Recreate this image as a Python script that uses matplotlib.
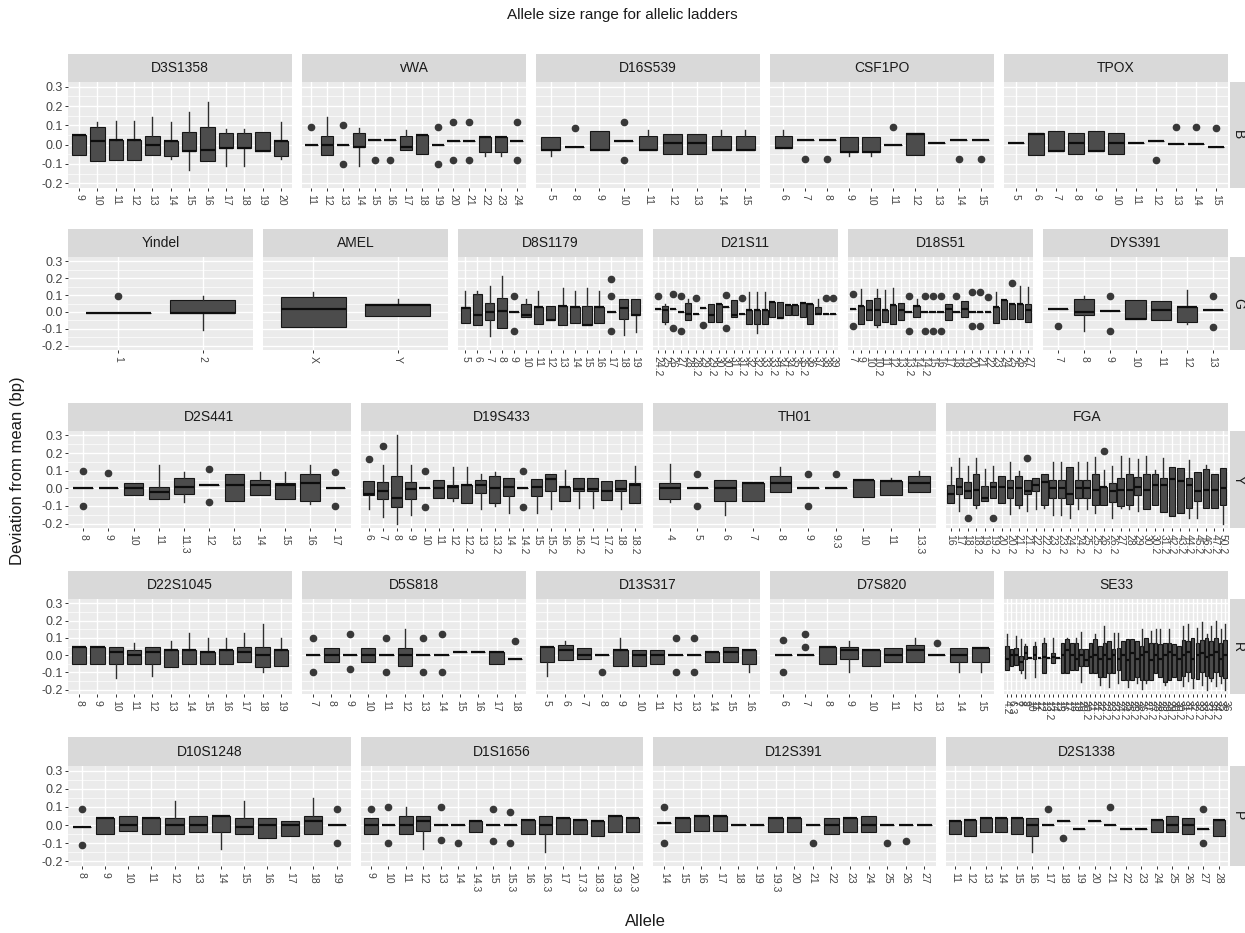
import matplotlib
matplotlib.use("Agg")
import matplotlib.pyplot as plt
from matplotlib.ticker import FixedLocator

plt.rcParams['font.family'] = ['Liberation Sans', 'DejaVu Sans']

# each box: (lower whisker, q1, median, q3, upper whisker, outliers)

# ---------------- row B ----------------
D3S1358_alleles = ['9', '10', '11', '12', '13', '14', '15', '16', '17', '18', '19', '20']
D3S1358_stats = [
    (-0.055, -0.055, 0.05, 0.05, 0.05, []),
    (-0.085, -0.085, 0.02, 0.09, 0.12, []),
    (-0.08, -0.08, 0.025, 0.025, 0.125, []),
    (-0.08, -0.08, 0.025, 0.025, 0.125, []),
    (-0.055, -0.055, 0.0, 0.045, 0.145, []),
    (-0.075, -0.06, 0.02, 0.02, 0.12, []),
    (-0.13, -0.035, -0.035, 0.065, 0.17, []),
    (-0.085, -0.085, -0.03, 0.09, 0.22, []),
    (-0.11, -0.015, -0.015, 0.06, 0.08, []),
    (-0.11, -0.015, -0.015, 0.06, 0.08, []),
    (-0.035, -0.035, -0.035, 0.065, 0.065, []),
    (-0.075, -0.06, 0.02, 0.02, 0.12, []),
]

vWA_alleles = ['11', '12', '13', '14', '15', '16', '17', '18', '19', '20', '21', '22', '23', '24']
vWA_stats = [
    (0.0, 0.0, 0.0, 0.0, 0.0, [0.09]),
    (-0.055, -0.055, 0.0, 0.045, 0.145, []),
    (0.0, 0.0, 0.0, 0.0, 0.0, [0.1, -0.1]),
    (-0.11, -0.01, -0.01, 0.06, 0.085, []),
    (0.025, 0.025, 0.025, 0.025, 0.025, [-0.08]),
    (0.025, 0.025, 0.025, 0.025, 0.025, [-0.08]),
    (-0.03, -0.03, -0.01, 0.045, 0.075, []),
    (-0.05, -0.05, 0.05, 0.05, 0.05, []),
    (0.0, 0.0, 0.0, 0.0, 0.0, [0.09, -0.1]),
    (0.02, 0.02, 0.02, 0.02, 0.02, [0.12, -0.08]),
    (0.02, 0.02, 0.02, 0.02, 0.02, [0.12, -0.08]),
    (-0.06, -0.04, 0.04, 0.04, 0.04, []),
    (-0.06, -0.04, 0.04, 0.04, 0.04, []),
    (0.02, 0.02, 0.02, 0.02, 0.02, [0.12, -0.08]),
]

D16S539_alleles = ['5', '8', '9', '10', '11', '12', '13', '14', '15']
D16S539_stats = [
    (-0.06, -0.03, -0.03, 0.04, 0.04, []),
    (-0.012, -0.012, -0.012, -0.012, -0.012, [0.085]),
    (-0.03, -0.03, -0.03, 0.07, 0.07, []),
    (0.02, 0.02, 0.02, 0.02, 0.02, [0.12, -0.08]),
    (-0.03, -0.03, -0.03, 0.047, 0.075, []),
    (-0.05, -0.05, 0.01, 0.055, 0.055, []),
    (-0.05, -0.05, 0.01, 0.055, 0.055, []),
    (-0.03, -0.03, -0.03, 0.047, 0.075, []),
    (-0.03, -0.03, -0.03, 0.047, 0.075, []),
]

CSF1PO_alleles = ['6', '7', '8', '9', '10', '11', '12', '13', '14', '15']
CSF1PO_stats = [
    (-0.02, -0.02, -0.02, 0.047, 0.075, []),
    (0.025, 0.025, 0.025, 0.025, 0.025, [-0.075]),
    (0.025, 0.025, 0.025, 0.025, 0.025, [-0.075]),
    (-0.06, -0.04, -0.04, 0.04, 0.04, []),
    (-0.06, -0.04, -0.04, 0.04, 0.04, []),
    (0.0, 0.0, 0.0, 0.0, 0.0, [0.09]),
    (-0.053, -0.053, 0.053, 0.058, 0.058, []),
    (0.01, 0.01, 0.01, 0.01, 0.01, []),
    (0.025, 0.025, 0.025, 0.025, 0.025, [-0.075]),
    (0.025, 0.025, 0.025, 0.025, 0.025, [-0.075]),
]

TPOX_alleles = ['5', '6', '7', '8', '9', '10', '11', '12', '13', '14', '15']
TPOX_stats = [
    (0.01, 0.01, 0.01, 0.01, 0.01, []),
    (-0.053, -0.053, 0.053, 0.058, 0.058, []),
    (-0.035, -0.035, -0.035, 0.07, 0.07, []),
    (-0.05, -0.05, 0.01, 0.058, 0.058, []),
    (-0.035, -0.035, -0.035, 0.07, 0.07, []),
    (-0.05, -0.05, 0.01, 0.058, 0.058, []),
    (0.01, 0.01, 0.01, 0.01, 0.01, []),
    (0.02, 0.02, 0.02, 0.02, 0.02, [-0.08]),
    (0.005, 0.005, 0.005, 0.005, 0.005, [0.09]),
    (0.005, 0.005, 0.005, 0.005, 0.005, [0.09]),
    (-0.012, -0.012, -0.012, -0.012, -0.012, [0.088]),
]

# ---------------- row G ----------------
Yindel_alleles = ['1', '2']
Yindel_stats = [
    (-0.005, -0.005, -0.005, -0.005, -0.005, [0.095]),
    (-0.105, -0.005, -0.005, 0.07, 0.095, []),
]

AMEL_alleles = ['X', 'Y']
AMEL_stats = [
    (-0.09, -0.09, 0.015, 0.09, 0.12, []),
    (-0.025, -0.025, 0.04, 0.045, 0.075, []),
]

D8S1179_alleles = ['5', '6', '7', '8', '9', '10', '11', '12', '13', '14', '15', '16', '17', '18', '19']
D8S1179_stats = [
    (-0.065, -0.065, 0.025, 0.03, 0.125, []),
    (-0.08, -0.08, -0.02, 0.105, 0.125, []),
    (-0.14, -0.05, 0.0, 0.055, 0.155, []),
    (-0.095, -0.095, 0.005, 0.08, 0.21, []),
    (0.0, 0.0, 0.0, 0.0, 0.0, [0.095, -0.11]),
    (-0.03, -0.03, -0.02, 0.045, 0.075, []),
    (-0.07, -0.07, 0.03, 0.03, 0.125, []),
    (-0.045, -0.045, -0.045, 0.035, 0.035, []),
    (-0.075, -0.075, 0.035, 0.035, 0.14, []),
    (-0.065, -0.065, 0.03, 0.03, 0.125, []),
    (-0.075, -0.075, -0.075, 0.035, 0.14, []),
    (-0.065, -0.065, 0.03, 0.03, 0.125, []),
    (0.0, 0.0, 0.0, 0.0, 0.0, [0.195, 0.095, -0.11]),
    (-0.135, -0.04, 0.025, 0.075, 0.075, []),
    (-0.12, -0.02, -0.02, 0.075, 0.075, []),
]

D21S11_alleles = ['24.2', '25', '26', '27', '28', '28.2', '29', '29.2', '30', '30.2', '31', '31.2',
                  '32', '32.2', '33', '33.2', '34', '34.2', '35', '35.2', '36', '37', '38', '39']
D21S11_stats = [
    (0.015, 0.015, 0.015, 0.015, 0.015, [0.095]),
    (-0.07, -0.06, 0.01, 0.035, 0.045, []),
    (0.015, 0.015, 0.015, 0.015, 0.015, [0.105, -0.095]),
    (0.0, 0.0, 0.0, 0.0, 0.0, [0.095, -0.11]),
    (-0.045, -0.045, -0.015, 0.055, 0.075, []),
    (-0.015, -0.015, -0.015, -0.015, -0.015, [0.08]),
    (0.025, 0.025, 0.025, 0.025, 0.025, [-0.08]),
    (-0.06, -0.06, -0.02, 0.05, 0.05, []),
    (-0.06, -0.06, 0.05, 0.05, 0.05, []),
    (0.03, 0.03, 0.03, 0.03, 0.03, [0.1, -0.095]),
    (-0.03, -0.03, -0.02, 0.07, 0.07, []),
    (-0.015, -0.015, -0.015, -0.015, -0.015, [0.08]),
    (-0.07, -0.07, 0.01, 0.01, 0.12, []),
    (-0.125, -0.07, 0.01, 0.01, 0.12, []),
    (-0.07, -0.07, 0.01, 0.01, 0.12, []),
    (-0.03, -0.03, 0.06, 0.06, 0.06, []),
    (-0.035, -0.035, -0.035, 0.06, 0.06, []),
    (-0.02, -0.02, 0.04, 0.04, 0.04, []),
    (-0.02, -0.02, 0.04, 0.04, 0.04, []),
    (-0.03, -0.03, 0.055, 0.055, 0.055, []),
    (-0.07, -0.07, 0.05, 0.05, 0.05, []),
    (-0.015, -0.015, -0.015, 0.03, 0.075, []),
    (-0.015, -0.015, -0.015, -0.015, -0.015, [0.085]),
    (-0.015, -0.015, -0.015, -0.015, -0.015, [0.085]),
]

D18S51_alleles = ['7', '9', '10', '10.2', '11', '12', '13', '13.2', '14', '14.2', '15', '16',
                  '17', '18', '19', '20', '21', '22', '23', '24', '25', '26', '27']
D18S51_stats = [
    (0.015, 0.015, 0.015, 0.015, 0.015, [0.105, -0.085]),
    (-0.07, -0.07, 0.035, 0.035, 0.135, []),
    (-0.045, -0.045, 0.01, 0.07, 0.07, []),
    (-0.09, -0.08, 0.01, 0.08, 0.135, []),
    (-0.06, -0.06, 0.01, 0.01, 0.13, []),
    (-0.07, -0.07, 0.04, 0.04, 0.14, []),
    (-0.045, -0.045, 0.01, 0.055, 0.055, []),
    (0.0, 0.0, 0.0, 0.0, 0.0, [0.095, -0.115]),
    (-0.03, -0.03, 0.035, 0.035, 0.075, []),
    (0.0, 0.0, 0.0, 0.0, 0.0, [0.095, -0.115]),
    (0.0, 0.0, 0.0, 0.0, 0.0, [0.095, -0.115]),
    (0.0, 0.0, 0.0, 0.0, 0.0, [0.095, -0.115]),
    (-0.045, -0.045, 0.015, 0.045, 0.045, []),
    (0.0, 0.0, 0.0, 0.0, 0.0, [0.095]),
    (-0.03, -0.03, 0.015, 0.065, 0.065, []),
    (0.0, 0.0, 0.0, 0.0, 0.0, [0.12, -0.085]),
    (0.0, 0.0, 0.0, 0.0, 0.0, [0.12, -0.085]),
    (0.0, 0.0, 0.0, 0.0, 0.0, [0.09]),
    (-0.065, -0.065, 0.03, 0.03, 0.12, []),
    (-0.04, -0.04, 0.07, 0.07, 0.07, []),
    (-0.04, -0.04, 0.05, 0.05, 0.05, [0.17]),
    (-0.04, -0.04, 0.05, 0.05, 0.155, []),
    (-0.06, -0.06, 0.01, 0.05, 0.145, []),
]

DYS391_alleles = ['7', '8', '9', '10', '11', '12', '13']
DYS391_stats = [
    (0.015, 0.015, 0.015, 0.015, 0.015, [-0.085]),
    (-0.11, -0.02, 0.0, 0.075, 0.095, []),
    (0.005, 0.005, 0.005, 0.005, 0.005, [0.095, -0.11]),
    (-0.04, -0.04, -0.04, 0.07, 0.07, []),
    (-0.045, -0.045, 0.01, 0.065, 0.065, []),
    (-0.07, -0.06, 0.03, 0.03, 0.13, []),
    (0.01, 0.01, 0.01, 0.01, 0.01, [0.095, -0.09]),
]

# ---------------- row Y ----------------
D2S441_alleles = ['8', '9', '10', '11', '11.3', '12', '13', '14', '15', '16', '17']
D2S441_stats = [
    (0.0, 0.0, 0.0, 0.0, 0.0, [0.1, -0.1]),
    (0.0, 0.0, 0.0, 0.0, 0.0, [0.085]),
    (-0.04, -0.04, 0.0, 0.03, 0.03, []),
    (-0.06, -0.06, -0.02, 0.01, 0.13, []),
    (-0.08, -0.03, 0.01, 0.06, 0.09, []),
    (0.02, 0.02, 0.02, 0.02, 0.02, [0.11, -0.08]),
    (-0.07, -0.07, 0.02, 0.08, 0.08, []),
    (-0.04, -0.04, 0.02, 0.05, 0.09, []),
    (-0.06, -0.06, 0.02, 0.03, 0.09, []),
    (-0.09, -0.07, 0.03, 0.08, 0.13, []),
    (0.0, 0.0, 0.0, 0.0, 0.0, [0.09, -0.1]),
]

D19S433_alleles = ['6', '7', '8', '9', '10', '11', '12', '12.2', '13', '13.2', '14', '14.2',
                   '15', '15.2', '16', '16.2', '17', '17.2', '18', '18.2']
D19S433_stats = [
    (-0.12, -0.037, -0.033, 0.041, 0.041, [0.167]),
    (-0.16, -0.063, -0.014, 0.035, 0.133, [0.24]),
    (-0.2, -0.108, -0.053, 0.069, 0.3, []),
    (-0.15, -0.063, -0.004, 0.035, 0.133, []),
    (0.0, 0.0, 0.0, 0.0, 0.0, [0.1, -0.106]),
    (-0.053, -0.053, 0.0, 0.049, 0.049, []),
    (-0.073, -0.053, 0.01, 0.016, 0.12, []),
    (-0.082, -0.082, 0.016, 0.016, 0.12, []),
    (-0.12, -0.024, 0.016, 0.045, 0.08, []),
    (-0.1, -0.082, 0.0, 0.069, 0.094, []),
    (-0.14, -0.043, 0.01, 0.059, 0.059, []),
    (0.0, 0.0, 0.0, 0.0, 0.0, [0.1, -0.106]),
    (-0.14, -0.043, 0.006, 0.055, 0.055, []),
    (-0.12, -0.018, 0.055, 0.08, 0.08, []),
    (-0.073, -0.073, 0.01, 0.01, 0.104, []),
    (-0.11, -0.014, -0.004, 0.06, 0.06, []),
    (-0.11, -0.014, -0.004, 0.06, 0.06, []),
    (-0.069, -0.069, -0.014, 0.041, 0.041, []),
    (-0.12, -0.018, -0.004, 0.049, 0.049, []),
    (-0.082, -0.082, 0.016, 0.03, 0.124, []),
]

TH01_alleles = ['4', '5', '6', '7', '8', '9', '9.3', '10', '11', '13.3']
TH01_stats = [
    (-0.08, -0.06, 0.0, 0.03, 0.14, []),
    (0.0, 0.0, 0.0, 0.0, 0.0, [0.08, -0.1]),
    (-0.15, -0.07, 0.0, 0.05, 0.05, []),
    (-0.07, -0.07, 0.03, 0.03, 0.03, []),
    (-0.02, -0.02, 0.03, 0.07, 0.12, []),
    (0.0, 0.0, 0.0, 0.0, 0.0, [0.08, -0.1]),
    (0.0, 0.0, 0.0, 0.0, 0.0, [0.08]),
    (-0.05, -0.05, 0.05, 0.05, 0.05, []),
    (-0.04, -0.04, 0.04, 0.04, 0.06, []),
    (-0.02, -0.02, 0.03, 0.07, 0.1, []),
]

FGA_alleles = ['16', '17', '18', '18.2', '19', '19.2', '20', '20.2', '21', '21.2', '22', '22.2',
               '23', '23.2', '24', '24.2', '25', '25.2', '26', '26.2', '27', '28', '29', '30',
               '30.2', '31.2', '42.2', '43.2', '44.2', '45.2', '46.2', '47.2', '50.2']
FGA_stats = [
    (-0.082, -0.082, -0.033, 0.016, 0.12, []),
    (-0.131, -0.033, 0.006, 0.061, 0.173, []),
    (-0.053, -0.053, -0.014, 0.035, 0.124, [-0.167]),
    (-0.112, -0.096, -0.01, 0.084, 0.173, []),
    (-0.073, -0.073, -0.053, 0.012, 0.108, []),
    (-0.053, -0.053, 0.006, 0.035, 0.124, [-0.17]),
    (-0.082, -0.082, 0.006, 0.069, 0.069, []),
    (-0.147, -0.053, 0.0, 0.045, 0.147, []),
    (-0.112, -0.092, 0.0, 0.069, 0.1, []),
    (-0.127, -0.033, -0.014, 0.045, 0.045, [0.173]),
    (-0.12, -0.018, 0.016, 0.061, 0.061, []),
    (-0.112, -0.096, 0.035, 0.08, 0.08, []),
    (-0.15, -0.053, 0.0, 0.049, 0.147, []),
    (-0.15, -0.053, 0.0, 0.049, 0.147, []),
    (-0.17, -0.088, -0.03, 0.12, 0.12, []),
    (-0.116, -0.053, 0.0, 0.049, 0.147, []),
    (-0.116, -0.053, 0.0, 0.049, 0.147, []),
    (-0.14, -0.092, -0.01, 0.08, 0.178, []),
    (-0.092, -0.092, 0.006, 0.01, 0.104, [0.21]),
    (-0.167, -0.076, -0.014, 0.03, 0.124, []),
    (-0.112, -0.102, -0.01, 0.061, 0.186, []),
    (-0.12, -0.096, -0.01, 0.08, 0.173, []),
    (-0.127, -0.037, 0.006, 0.065, 0.167, []),
    (-0.116, -0.116, -0.01, 0.084, 0.186, []),
    (-0.092, -0.092, 0.016, 0.08, 0.104, []),
    (-0.135, -0.135, 0.016, 0.061, 0.173, []),
    (-0.155, -0.155, 0.055, 0.12, 0.12, []),
    (-0.141, -0.141, 0.041, 0.114, 0.114, []),
    (-0.17, -0.112, 0.016, 0.061, 0.159, []),
    (-0.17, -0.073, -0.014, 0.094, 0.094, []),
    (-0.112, -0.112, -0.01, 0.108, 0.133, []),
    (-0.112, -0.112, -0.01, 0.084, 0.084, []),
    (-0.2, -0.092, 0.0, 0.114, 0.114, []),
]

# ---------------- row R ----------------
D22S1045_alleles = ['8', '9', '10', '11', '12', '13', '14', '15', '16', '17', '18', '19']
D22S1045_stats = [
    (-0.05, -0.05, 0.05, 0.05, 0.05, []),
    (-0.05, -0.05, 0.05, 0.05, 0.05, []),
    (-0.13, -0.05, 0.02, 0.05, 0.05, []),
    (-0.05, -0.05, 0.0, 0.03, 0.07, []),
    (-0.12, -0.05, 0.02, 0.05, 0.05, []),
    (-0.07, -0.07, 0.03, 0.03, 0.08, []),
    (-0.05, -0.05, 0.03, 0.03, 0.13, []),
    (-0.05, -0.05, 0.02, 0.02, 0.1, []),
    (-0.05, -0.05, 0.03, 0.03, 0.1, []),
    (-0.04, -0.04, 0.02, 0.05, 0.13, []),
    (-0.1, -0.07, 0.0, 0.05, 0.18, []),
    (-0.06, -0.06, 0.03, 0.03, 0.1, []),
]

D5S818_alleles = ['7', '8', '9', '10', '11', '12', '13', '14', '15', '16', '17', '18']
D5S818_stats = [
    (0.0, 0.0, 0.0, 0.0, 0.0, [0.1, -0.1]),
    (-0.04, -0.04, 0.0, 0.04, 0.04, []),
    (0.0, 0.0, 0.0, 0.0, 0.0, [0.12, -0.08]),
    (-0.04, -0.04, 0.0, 0.04, 0.04, []),
    (0.0, 0.0, 0.0, 0.0, 0.0, [0.1, -0.1]),
    (-0.06, -0.06, 0.0, 0.04, 0.15, []),
    (0.0, 0.0, 0.0, 0.0, 0.0, [0.1, -0.1]),
    (0.0, 0.0, 0.0, 0.0, 0.0, [0.12, -0.1]),
    (0.02, 0.02, 0.02, 0.02, 0.02, []),
    (0.02, 0.02, 0.02, 0.02, 0.02, []),
    (-0.05, -0.05, 0.02, 0.02, 0.02, []),
    (-0.02, -0.02, -0.02, -0.02, -0.02, [0.08]),
]

D13S317_alleles = ['5', '6', '7', '8', '9', '10', '11', '12', '13', '14', '15', '16']
D13S317_stats = [
    (-0.12, -0.04, 0.05, 0.05, 0.05, []),
    (-0.03, -0.03, 0.03, 0.06, 0.08, []),
    (-0.02, -0.02, 0.0, 0.04, 0.04, []),
    (0.0, 0.0, 0.0, 0.0, 0.0, [-0.1]),
    (-0.06, -0.06, 0.03, 0.03, 0.1, []),
    (-0.06, -0.06, 0.0, 0.03, 0.03, []),
    (-0.05, -0.05, 0.0, 0.03, 0.03, []),
    (0.0, 0.0, 0.0, 0.0, 0.0, [0.1, -0.1]),
    (0.0, 0.0, 0.0, 0.0, 0.0, [0.1, -0.1]),
    (-0.04, -0.04, 0.02, 0.02, 0.02, []),
    (-0.04, -0.04, 0.02, 0.05, 0.05, []),
    (-0.1, -0.05, 0.03, 0.03, 0.03, []),
]

D7S820_alleles = ['6', '7', '8', '9', '10', '11', '12', '13', '14', '15']
D7S820_stats = [
    (0.0, 0.0, 0.0, 0.0, 0.0, [0.09, -0.1]),
    (0.0, 0.0, 0.0, 0.0, 0.0, [0.12, 0.05]),
    (-0.05, -0.05, 0.05, 0.05, 0.05, []),
    (-0.1, -0.02, 0.03, 0.05, 0.08, []),
    (-0.06, -0.06, 0.03, 0.03, 0.03, []),
    (-0.04, -0.04, 0.0, 0.04, 0.04, []),
    (-0.04, -0.04, 0.03, 0.06, 0.1, []),
    (0.0, 0.0, 0.0, 0.0, 0.0, [0.07]),
    (-0.1, -0.04, 0.0, 0.04, 0.04, []),
    (-0.1, -0.04, 0.04, 0.04, 0.04, []),
]

SE33_alleles = ['4.2', '6.3', '7', '8', '9', '10', '11', '12', '13', '13.2', '14', '15', '16',
                '17', '18', '19', '20', '20.2', '21', '21.2', '22', '22.2', '23', '23.2', '24',
                '24.2', '25', '25.2', '26', '26.2', '27', '27.2', '28', '28.2', '29', '29.2',
                '30', '30.2', '31', '31.2', '32', '32.2', '33', '33.2', '34', '34.2', '35', '36']
SE33_stats = [
    (-0.084, -0.084, -0.02, 0.053, 0.12, []),
    (-0.06, -0.06, 0.0, 0.037, 0.037, []),
    (-0.055, -0.055, 0.0, 0.043, 0.11, []),
    (-0.104, -0.084, -0.04, -0.006, 0.096, []),
    (-0.133, -0.025, 0.01, 0.053, 0.063, []),
    (-0.016, -0.016, -0.016, -0.016, -0.016, []),
    (-0.124, -0.025, 0.0, 0.053, 0.076, []),
    (-0.016, -0.016, -0.016, -0.016, -0.016, []),
    (-0.104, -0.104, -0.01, 0.073, 0.1, []),
    (-0.016, -0.016, -0.016, -0.016, -0.016, []),
    (-0.045, -0.045, -0.01, 0.014, 0.1, []),
    (-0.016, -0.016, -0.016, -0.016, -0.016, []),
    (-0.104, -0.104, 0.0, 0.073, 0.073, []),
    (-0.104, -0.104, 0.03, 0.092, 0.1, []),
    (-0.084, -0.084, 0.0, 0.073, 0.073, []),
    (-0.084, -0.084, -0.02, 0.073, 0.1, []),
    (-0.153, -0.065, 0.0, 0.033, 0.135, []),
    (-0.065, -0.065, -0.03, 0.033, 0.033, []),
    (-0.104, -0.104, -0.01, 0.073, 0.073, []),
    (-0.104, -0.104, 0.0, 0.092, 0.12, []),
    (-0.173, -0.124, -0.02, 0.053, 0.053, []),
    (-0.124, -0.124, 0.0, 0.073, 0.17, []),
    (-0.182, -0.104, -0.02, 0.082, 0.082, []),
    (-0.104, -0.104, 0.0, 0.033, 0.13, []),
    (-0.163, -0.084, -0.02, 0.043, 0.13, []),
    (-0.143, -0.143, 0.0, 0.082, 0.082, []),
    (-0.182, -0.143, -0.03, 0.092, 0.092, []),
    (-0.143, -0.143, 0.01, 0.092, 0.092, []),
    (-0.163, -0.124, -0.02, 0.082, 0.082, []),
    (-0.198, -0.143, 0.0, 0.053, 0.15, []),
    (-0.163, -0.143, 0.02, 0.102, 0.102, []),
    (-0.143, -0.143, -0.03, 0.073, 0.14, []),
    (-0.104, -0.104, 0.0, 0.073, 0.15, []),
    (-0.124, -0.124, -0.02, 0.063, 0.15, []),
    (-0.173, -0.153, 0.0, 0.073, 0.073, []),
    (-0.143, -0.143, 0.02, 0.073, 0.15, []),
    (-0.124, -0.124, 0.0, 0.063, 0.063, []),
    (-0.143, -0.143, -0.02, 0.053, 0.053, []),
    (-0.18, -0.12, 0.0, 0.09, 0.17, []),
    (-0.15, -0.1, 0.02, 0.08, 0.18, []),
    (-0.19, -0.13, -0.02, 0.1, 0.1, []),
    (-0.14, -0.14, 0.0, 0.07, 0.16, []),
    (-0.17, -0.1, 0.01, 0.09, 0.19, []),
    (-0.2, -0.12, -0.01, 0.1, 0.12, []),
    (-0.15, -0.13, 0.0, 0.08, 0.17, []),
    (-0.18, -0.1, 0.02, 0.1, 0.2, []),
    (-0.16, -0.12, -0.02, 0.07, 0.15, []),
    (-0.2, -0.13, 0.0, 0.09, 0.18, []),
]

# ---------------- row P ----------------
D10S1248_alleles = ['8', '9', '10', '11', '12', '13', '14', '15', '16', '17', '18', '19']
D10S1248_stats = [
    (-0.01, -0.01, -0.01, -0.01, -0.01, [0.09, -0.11]),
    (-0.05, -0.05, 0.04, 0.04, 0.04, []),
    (-0.03, -0.03, 0.0, 0.05, 0.05, []),
    (-0.05, -0.05, 0.04, 0.04, 0.04, []),
    (-0.05, -0.05, 0.0, 0.04, 0.13, []),
    (-0.04, -0.04, 0.0, 0.05, 0.05, []),
    (-0.13, -0.04, 0.05, 0.05, 0.05, []),
    (-0.05, -0.05, -0.01, 0.04, 0.13, []),
    (-0.07, -0.07, 0.0, 0.04, 0.04, []),
    (-0.06, -0.06, 0.0, 0.02, 0.02, []),
    (-0.05, -0.05, 0.02, 0.05, 0.15, []),
    (0.0, 0.0, 0.0, 0.0, 0.0, [0.09, -0.1]),
]

D1S1656_alleles = ['9', '10', '11', '12', '13', '14', '14.3', '15', '15.3', '16', '16.3', '17',
                   '17.3', '18.3', '19.3', '20.3']
D1S1656_stats = [
    (-0.05, -0.05, 0.0, 0.04, 0.04, [0.09]),
    (0.0, 0.0, 0.0, 0.0, 0.0, [0.1, -0.1]),
    (-0.05, -0.05, 0.0, 0.05, 0.1, []),
    (-0.13, -0.03, 0.02, 0.05, 0.05, []),
    (0.0, 0.0, 0.0, 0.0, 0.0, [0.1, -0.08]),
    (0.0, 0.0, 0.0, 0.0, 0.0, [-0.1]),
    (-0.04, -0.04, 0.02, 0.02, 0.02, []),
    (0.0, 0.0, 0.0, 0.0, 0.0, [0.09, -0.09]),
    (0.0, 0.0, 0.0, 0.0, 0.0, [0.07, -0.1]),
    (-0.05, -0.05, 0.03, 0.03, 0.03, []),
    (-0.15, -0.05, 0.0, 0.05, 0.05, []),
    (-0.05, -0.05, 0.04, 0.04, 0.04, []),
    (-0.05, -0.05, 0.03, 0.03, 0.03, []),
    (-0.06, -0.06, 0.02, 0.02, 0.02, []),
    (-0.04, -0.04, 0.05, 0.05, 0.05, []),
    (-0.04, -0.04, 0.04, 0.04, 0.04, []),
]

D12S391_alleles = ['14', '15', '16', '17', '18', '19', '19.3', '20', '21', '22', '23', '24',
                   '25', '26', '27']
D12S391_stats = [
    (0.01, 0.01, 0.01, 0.01, 0.01, [0.1, -0.1]),
    (-0.04, -0.04, 0.04, 0.04, 0.04, []),
    (-0.03, -0.03, 0.05, 0.05, 0.05, []),
    (-0.03, -0.03, 0.05, 0.05, 0.05, []),
    (0.0, 0.0, 0.0, 0.0, 0.0, []),
    (0.0, 0.0, 0.0, 0.0, 0.0, []),
    (-0.04, -0.04, 0.04, 0.04, 0.04, []),
    (-0.04, -0.04, 0.04, 0.04, 0.04, []),
    (0.0, 0.0, 0.0, 0.0, 0.0, [-0.1]),
    (-0.05, -0.05, 0.0, 0.04, 0.04, []),
    (-0.04, -0.04, 0.04, 0.04, 0.04, []),
    (-0.04, -0.04, 0.0, 0.05, 0.05, []),
    (0.0, 0.0, 0.0, 0.0, 0.0, [-0.1]),
    (0.0, 0.0, 0.0, 0.0, 0.0, [-0.09]),
    (0.0, 0.0, 0.0, 0.0, 0.0, []),
]

D2S1338_alleles = ['11', '12', '13', '14', '15', '16', '17', '18', '19', '20', '21', '22', '23',
                   '24', '25', '26', '27', '28']
D2S1338_stats = [
    (-0.05, -0.05, 0.02, 0.02, 0.02, []),
    (-0.06, -0.06, 0.03, 0.03, 0.03, []),
    (-0.04, -0.04, 0.04, 0.04, 0.04, []),
    (-0.04, -0.04, 0.04, 0.04, 0.04, []),
    (-0.05, -0.05, 0.04, 0.04, 0.04, []),
    (-0.15, -0.06, 0.0, 0.04, 0.04, []),
    (0.0, 0.0, 0.0, 0.0, 0.0, [0.09]),
    (0.02, 0.02, 0.02, 0.02, 0.02, [-0.07]),
    (-0.02, -0.02, -0.02, -0.02, -0.02, []),
    (0.02, 0.02, 0.02, 0.02, 0.02, []),
    (0.0, 0.0, 0.0, 0.0, 0.0, [0.1]),
    (-0.02, -0.02, -0.02, -0.02, -0.02, []),
    (-0.02, -0.02, -0.02, -0.02, -0.02, []),
    (-0.04, -0.04, 0.03, 0.03, 0.03, []),
    (-0.04, -0.04, 0.0, 0.05, 0.05, []),
    (-0.05, -0.05, 0.0, 0.04, 0.04, []),
    (-0.02, -0.02, -0.02, -0.02, -0.02, [0.09, -0.1]),
    (-0.06, -0.06, 0.03, 0.03, 0.03, []),
]

rows = [
    ("B", [("D3S1358", D3S1358_alleles, D3S1358_stats),
           ("vWA", vWA_alleles, vWA_stats),
           ("D16S539", D16S539_alleles, D16S539_stats),
           ("CSF1PO", CSF1PO_alleles, CSF1PO_stats),
           ("TPOX", TPOX_alleles, TPOX_stats)]),
    ("G", [("Yindel", Yindel_alleles, Yindel_stats),
           ("AMEL", AMEL_alleles, AMEL_stats),
           ("D8S1179", D8S1179_alleles, D8S1179_stats),
           ("D21S11", D21S11_alleles, D21S11_stats),
           ("D18S51", D18S51_alleles, D18S51_stats),
           ("DYS391", DYS391_alleles, DYS391_stats)]),
    ("Y", [("D2S441", D2S441_alleles, D2S441_stats),
           ("D19S433", D19S433_alleles, D19S433_stats),
           ("TH01", TH01_alleles, TH01_stats),
           ("FGA", FGA_alleles, FGA_stats)]),
    ("R", [("D22S1045", D22S1045_alleles, D22S1045_stats),
           ("D5S818", D5S818_alleles, D5S818_stats),
           ("D13S317", D13S317_alleles, D13S317_stats),
           ("D7S820", D7S820_alleles, D7S820_stats),
           ("SE33", SE33_alleles, SE33_stats)]),
    ("P", [("D10S1248", D10S1248_alleles, D10S1248_stats),
           ("D1S1656", D1S1656_alleles, D1S1656_stats),
           ("D12S391", D12S391_alleles, D12S391_stats),
           ("D2S1338", D2S1338_alleles, D2S1338_stats)]),
]

y_ticks = [-0.2, -0.1, 0.0, 0.1, 0.2, 0.3]
y_ticklabels = ['-0.2', '-0.1', '0.0', '0.1', '0.2', '0.3']

# layout in pixels (strip top, panel top, panel bottom) for each row
W, H = 1245, 933
row_pos = [(54, 82, 188), (229, 257, 350), (403, 431, 528), (571, 599, 694), (737, 766, 866)]
LEFT, RIGHT, GAP = 68, 1228, 10

PANEL_BG = '#EBEBEB'
STRIP_BG = '#D9D9D9'
BOX_FILL = '#4c4c4c'
TICK_GREY = '#444444'


def px_rect(x0, y0, x1, y1):
    return [x0 / W, 1 - y1 / H, (x1 - x0) / W, (y1 - y0) / H]


def draw_panel(ax, alleles, stats, first):
    bstats = [dict(whislo=s[0], q1=s[1], med=s[2], q3=s[3], whishi=s[4], fliers=s[5]) for s in stats]
    ax.bxp(bstats, positions=list(range(len(alleles))), widths=0.78, patch_artist=True,
           showcaps=False, manage_ticks=False,
           boxprops=dict(facecolor=BOX_FILL, edgecolor='#161616', linewidth=0.8),
           medianprops=dict(color='#0d0d0d', linewidth=1.6, solid_capstyle='butt'),
           whiskerprops=dict(color='#2e2e2e', linewidth=1.0),
           flierprops=dict(marker='o', markersize=4.5, markerfacecolor='#383838',
                           markeredgecolor='#383838'))
    ax.set_xlim(-0.6, len(alleles) - 0.4)
    ax.set_ylim(-0.225, 0.325)
    ax.set_facecolor(PANEL_BG)
    ax.set_axisbelow(True)
    for s in ax.spines.values():
        s.set_visible(False)
    ax.set_xticks(range(len(alleles)))
    ax.set_xticklabels(alleles, rotation=270, fontsize=7.5, color=TICK_GREY)
    ax.set_yticks(y_ticks)
    ax.yaxis.set_minor_locator(FixedLocator([-0.15, -0.05, 0.05, 0.15, 0.25]))
    ax.grid(which='major', color='white', linewidth=1.0)
    ax.grid(which='minor', axis='y', color='white', linewidth=0.5)
    ax.tick_params(which='major', length=2.5, width=0.7, color='#333333', pad=1.5)
    ax.tick_params(which='minor', length=0)
    if first:
        ax.set_yticklabels(y_ticklabels, fontsize=9, color=TICK_GREY)
    else:
        ax.tick_params(axis='y', left=False, labelleft=False)


fig = plt.figure(figsize=(W / 100, H / 100), dpi=100)

for (row_label, panels), (s_top, p_top, p_bot) in zip(rows, row_pos):
    n = len(panels)
    pw = (RIGHT - LEFT - GAP * (n - 1)) / n
    for i, (name, alleles, stats) in enumerate(panels):
        x0 = LEFT + i * (pw + GAP)
        ax = fig.add_axes(px_rect(x0, p_top, x0 + pw, p_bot))
        draw_panel(ax, alleles, stats, i == 0)
        sax = fig.add_axes(px_rect(x0, s_top, x0 + pw, p_top))
        sax.set_facecolor(STRIP_BG)
        sax.set_xticks([])
        sax.set_yticks([])
        for s in sax.spines.values():
            s.set_visible(False)
        sax.text(0.5, 0.5, name, ha='center', va='center', fontsize=10, color='#1A1A1A',
                 transform=sax.transAxes)
    rax = fig.add_axes(px_rect(RIGHT + 2, p_top, W, p_bot))
    rax.set_facecolor(STRIP_BG)
    rax.set_xticks([])
    rax.set_yticks([])
    for s in rax.spines.values():
        s.set_visible(False)
    rax.text(0.55, 0.5, row_label, ha='center', va='center', rotation=270, fontsize=10,
             color='#1A1A1A', transform=rax.transAxes)

fig.text(622 / W, 1 - 15 / H, 'Allele size range for allelic ladders', ha='center', va='center',
         fontsize=11, color='#1A1A1A')
fig.text(645 / W, 1 - 921 / H, 'Allele', ha='center', va='center', fontsize=12, color='#1A1A1A')
fig.text(18 / W, 1 - 471 / H, 'Deviation from mean (bp)', ha='center', va='center', rotation=90,
         fontsize=12, color='#1A1A1A')

fig.savefig('out.png', dpi=100, facecolor='white')
